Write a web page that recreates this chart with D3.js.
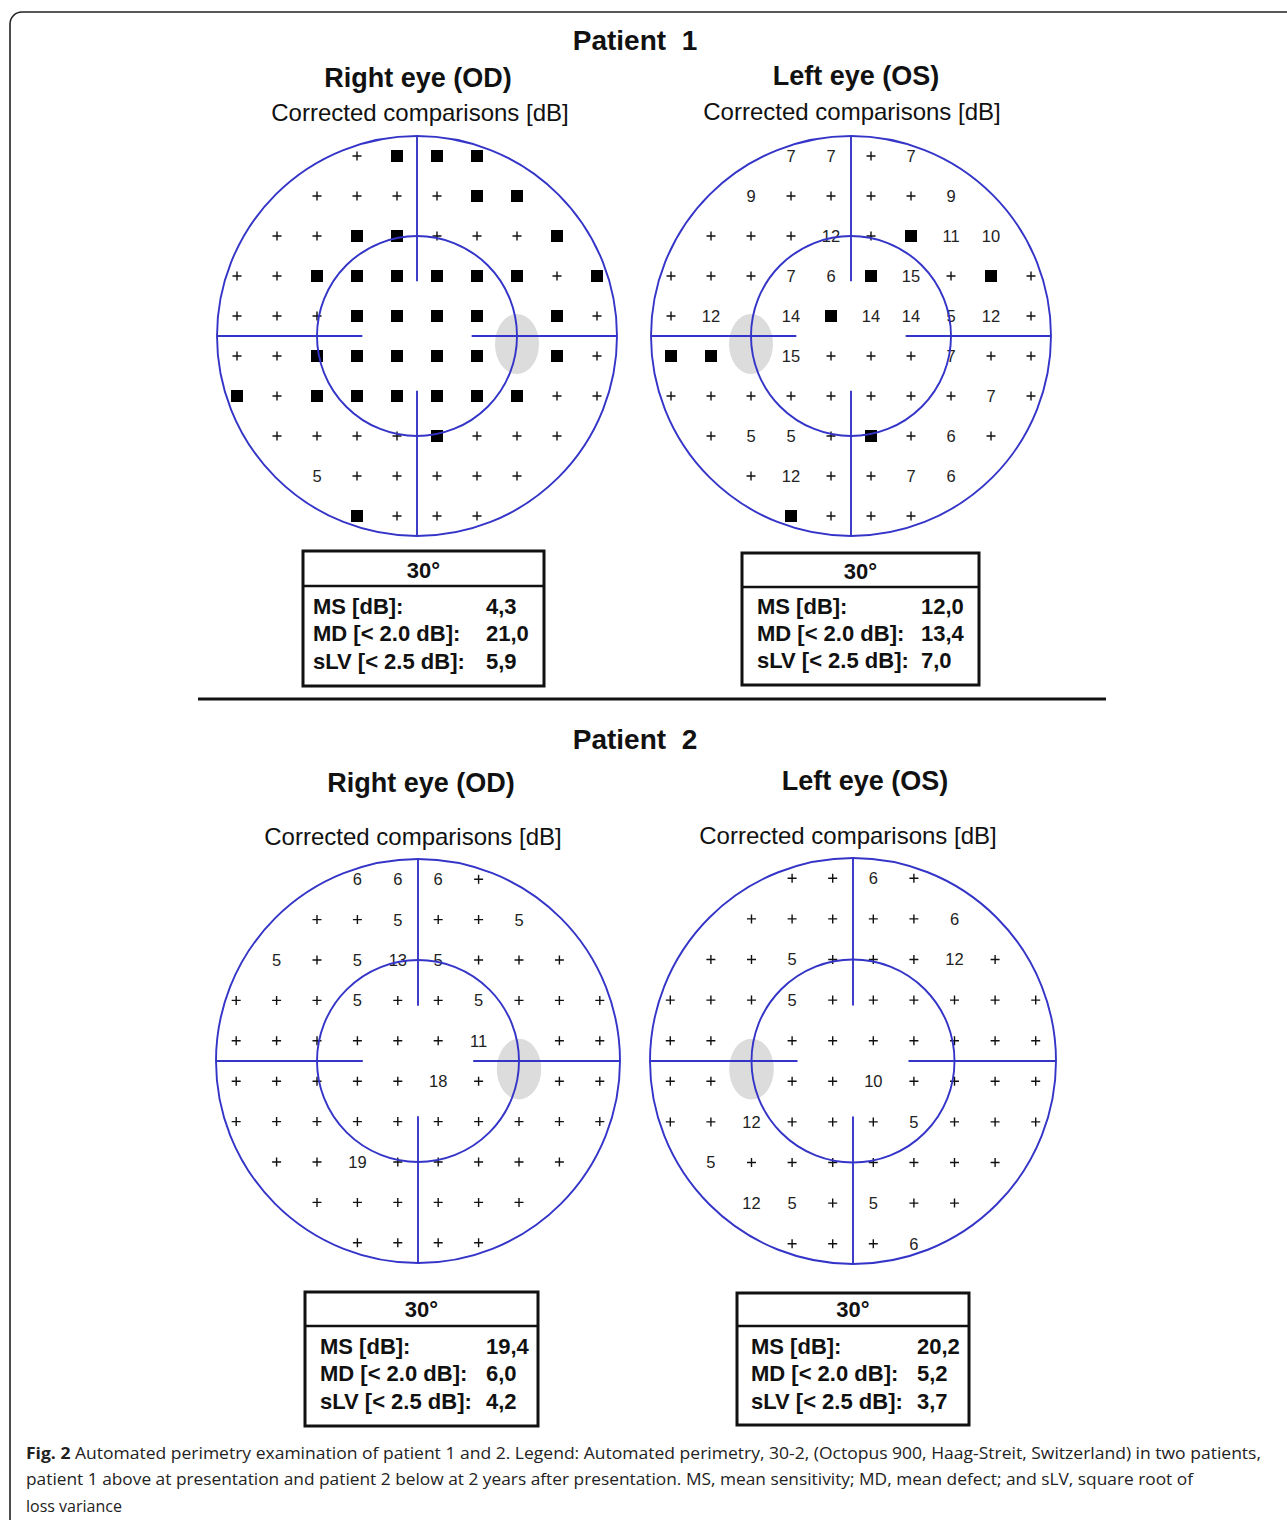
<!DOCTYPE html>
<html>
<head>
<meta charset="utf-8">
<script src="https://cdn.jsdelivr.net/npm/d3@7"></script>
<style>
  html, body { margin: 0; padding: 0; background: #fff; }
  svg { display: block; }
</style>
</head>
<body>
<svg id="chart" width="1287" height="1520"></svg>
<script>
// ---------------- DATA ----------------
// Eccentricity (degrees) of the 10 rows of the 30-2 grid, top to bottom
const rowY = [27, 21, 15, 9, 3, -3, -9, -15, -21, -27];
// Cell codes: "+" = normal, "X" = absolute defect (black square), "B" = blind spot (no test point), numbers = loss in dB
const p1OD = [
  ["+","X","X","X"],
  ["+","+","+","+","X","X"],
  ["+","+","X","X","+","+","+","X"],
  ["+","+","X","X","X","X","X","X","+","X"],
  ["+","+","+","X","X","X","X","B","X","+"],
  ["+","+","X","X","X","X","X","B","X","+"],
  ["X","+","X","X","X","X","X","X","+","+"],
  ["+","+","+","+","X","+","+","+"],
  ["5","+","+","+","+","+"],
  ["X","+","+","+"]
];
const p1OS = [
  ["7","7","+","7"],
  ["9","+","+","+","+","9"],
  ["+","+","+","12","+","X","11","10"],
  ["+","+","+","7","6","X","15","+","X","+"],
  ["+","12","B","14","X","14","14","5","12","+"],
  ["X","X","B","15","+","+","+","7","+","+"],
  ["+","+","+","+","+","+","+","+","7","+"],
  ["+","5","5","+","X","+","6","+"],
  ["+","12","+","+","7","6"],
  ["X","+","+","+"]
];
const p2OD = [
  ["6","6","6","+"],
  ["+","+","5","+","+","5"],
  ["5","+","5","13","5","+","+","+"],
  ["+","+","+","5","+","+","5","+","+","+"],
  ["+","+","+","+","+","+","11","B","+","+"],
  ["+","+","+","+","+","18","+","B","+","+"],
  ["+","+","+","+","+","+","+","+","+","+"],
  ["+","+","19","+","+","+","+","+"],
  ["+","+","+","+","+","+"],
  ["+","+","+","+"]
];
const p2OS = [
  ["+","+","6","+"],
  ["+","+","+","+","+","6"],
  ["+","+","5","+","+","+","12","+"],
  ["+","+","+","5","+","+","+","+","+","+"],
  ["+","+","B","+","+","+","+","+","+","+"],
  ["+","+","B","+","+","10","+","+","+","+"],
  ["+","+","12","+","+","+","5","+","+","+"],
  ["5","+","+","+","+","+","+","+"],
  ["12","5","+","5","+","+"],
  ["+","+","+","6"]
];
const statLabels = ["MS [dB]:", "MD [< 2.0 dB]:", "sLV [< 2.5 dB]:"];
const statHeader = "30°";
const p1ODStats = ["4,3", "21,0", "5,9"];
const p1OSStats = ["12,0", "13,4", "7,0"];
const p2ODStats = ["19,4", "6,0", "4,2"];
const p2OSStats = ["20,2", "5,2", "3,7"];
const patientTitles = ["Patient  1", "Patient  2"];
const eyeTitles = { OD: "Right eye (OD)", OS: "Left eye (OS)" };
const subTitle = "Corrected comparisons [dB]";
const captionBold = "Fig. 2";
const captionLines = [
  " Automated perimetry examination of patient 1 and 2. Legend: Automated perimetry, 30-2, (Octopus 900, Haag-Streit, Switzerland) in two patients,",
  "patient 1 above at presentation and patient 2 below at 2 years after presentation. MS, mean sensitivity; MD, mean defect; and sLV, square root of",
  "loss variance"
];

// ---------------- LAYOUT ----------------
const BLUE = "#3434c8";
const FONT = "'Liberation Sans', Arial, Helvetica, sans-serif";
const svg = d3.select("#chart");

// outer frame (rounded top-left corner, runs off the page right and bottom)
svg.append("path")
  .attr("d", "M1300,12 H22 A12,12 0 0 0 10,24 V1540")
  .attr("fill", "none").attr("stroke", "#222").attr("stroke-width", 1.6);

const panels = [
  { values: p1OD, eye: "OD", cx: 417, cy: 336, R: 200,
    title: [418, 87], sub: [420, 121],
    box: { x: 303, y: 551, w: 241, h: 135, div: 586, lx: 313, vx: 486, hy: 578, ry: [614, 641, 669] }, stats: p1ODStats },
  { values: p1OS, eye: "OS", cx: 851, cy: 336, R: 200,
    title: [856, 85], sub: [852, 120],
    box: { x: 742, y: 553, w: 237, h: 132, div: 587, lx: 757, vx: 921, hy: 579, ry: [614, 641, 668] }, stats: p1OSStats },
  { values: p2OD, eye: "OD", cx: 418, cy: 1061, R: 202,
    title: [421, 792], sub: [413, 845],
    box: { x: 305, y: 1292, w: 233, h: 134, div: 1326, lx: 320, vx: 486, hy: 1317, ry: [1354, 1381, 1409] }, stats: p2ODStats },
  { values: p2OS, eye: "OS", cx: 853, cy: 1061, R: 203,
    title: [865, 790], sub: [848, 844],
    box: { x: 737, y: 1293, w: 232, h: 132, div: 1326, lx: 751, vx: 917, hy: 1317, ry: [1354, 1381, 1409] }, stats: p2OSStats }
];

// patient titles + separator
[[635, 50], [635, 749]].forEach((p, i) => {
  svg.append("text").attr("x", p[0]).attr("y", p[1]).attr("text-anchor", "middle")
    .attr("font-family", FONT).attr("font-weight", "bold").attr("font-size", 28)
    .attr("fill", "#111").attr("xml:space", "preserve").style("white-space", "pre")
    .text(patientTitles[i]);
});
svg.append("line").attr("x1", 198).attr("x2", 1106).attr("y1", 699).attr("y2", 699)
  .attr("stroke", "#111").attr("stroke-width", 3);

panels.forEach(p => {
  const g = svg.append("g");
  const x = d3.scaleLinear().domain([-30, 30]).range([p.cx - p.R, p.cx + p.R]);
  const y = d3.scaleLinear().domain([-30, 30]).range([p.cy + p.R, p.cy - p.R]);

  // titles
  g.append("text").attr("x", p.title[0]).attr("y", p.title[1]).attr("text-anchor", "middle")
    .attr("font-family", FONT).attr("font-weight", "bold").attr("font-size", 27).attr("fill", "#111")
    .text(eyeTitles[p.eye]);
  g.append("text").attr("x", p.sub[0]).attr("y", p.sub[1]).attr("text-anchor", "middle")
    .attr("font-family", FONT).attr("font-size", 24).attr("fill", "#111")
    .text(subTitle);

  // blind spot
  const bsX = p.eye === "OD" ? 15 : -15;
  g.append("ellipse")
    .attr("cx", x(bsX)).attr("cy", y(-1.2))
    .attr("rx", x(3.3) - x(0)).attr("ry", y(0) - y(4.5))
    .attr("fill", "#dcdcdc");

  // test points
  const pts = [];
  p.values.forEach((row, i) => {
    const n = row.length;
    row.forEach((v, j) => {
      if (v === "B") return;
      pts.push({ ex: -(n - 1) * 3 + j * 6, ey: rowY[i], v });
    });
  });
  const mark = g.selectAll("g.pt").data(pts).join("g")
    .attr("class", "pt")
    .attr("transform", d => `translate(${x(d.ex)},${y(d.ey)})`);
  mark.filter(d => d.v === "+").append("path")
    .attr("d", "M-4.5,0H4.5M0,-4.5V4.5")
    .attr("stroke", "#111").attr("stroke-width", 1.4);
  mark.filter(d => d.v === "X").append("rect")
    .attr("x", -6).attr("y", -6).attr("width", 12).attr("height", 12)
    .attr("fill", "#000");
  mark.filter(d => d.v !== "+" && d.v !== "X").append("text")
    .attr("text-anchor", "middle").attr("dy", "0.36em")
    .attr("font-family", FONT).attr("font-size", 16.5).attr("fill", "#222")
    .text(d => d.v);

  // circles (15° and 30°)
  [30, 15].forEach(r => {
    g.append("circle").attr("cx", x(0)).attr("cy", y(0)).attr("r", x(r) - x(0))
      .attr("fill", "none").attr("stroke", BLUE).attr("stroke-width", 1.9);
  });
  // meridian segments
  const segs = [[[-30, 0], [-8.2, 0]], [[8.2, 0], [30, 0]], [[0, 30], [0, 8.2]], [[0, -8.2], [0, -30]]];
  segs.forEach(s => {
    g.append("line").attr("x1", x(s[0][0])).attr("y1", y(s[0][1]))
      .attr("x2", x(s[1][0])).attr("y2", y(s[1][1]))
      .attr("stroke", BLUE).attr("stroke-width", 1.9);
  });

  // stats box
  const b = p.box;
  g.append("rect").attr("x", b.x).attr("y", b.y).attr("width", b.w).attr("height", b.h)
    .attr("fill", "#fff").attr("stroke", "#111").attr("stroke-width", 3);
  g.append("line").attr("x1", b.x).attr("x2", b.x + b.w).attr("y1", b.div).attr("y2", b.div)
    .attr("stroke", "#111").attr("stroke-width", 2.5);
  g.append("text").attr("x", b.x + b.w / 2).attr("y", b.hy).attr("text-anchor", "middle")
    .attr("font-family", FONT).attr("font-weight", "bold").attr("font-size", 22).attr("fill", "#111")
    .text(statHeader);
  statLabels.forEach((lab, k) => {
    g.append("text").attr("x", b.lx).attr("y", b.ry[k])
      .attr("font-family", FONT).attr("font-weight", "bold").attr("font-size", 22).attr("fill", "#111")
      .text(lab);
    g.append("text").attr("x", b.vx).attr("y", b.ry[k])
      .attr("font-family", FONT).attr("font-weight", "bold").attr("font-size", 22).attr("fill", "#111")
      .text(p.stats[k]);
  });
});

// caption
const capY = [1459, 1485, 1512];
const capW = [1235, 1167, null];
const CAPFONT = "'Open Sans', 'Noto Sans', sans-serif";
captionLines.forEach((line, i) => {
  const t = svg.append("text").attr("x", 26).attr("y", capY[i])
    .attr("font-family", CAPFONT).attr("font-size", 16).attr("fill", "#222")
    .attr("xml:space", "preserve").style("white-space", "pre");
  if (i === 0) {
    t.append("tspan").attr("font-weight", "bold").text(captionBold);
  }
  t.append("tspan").text(line);
  if (capW[i]) t.attr("textLength", capW[i]).attr("lengthAdjust", "spacingAndGlyphs");
});
</script>
</body>
</html>
